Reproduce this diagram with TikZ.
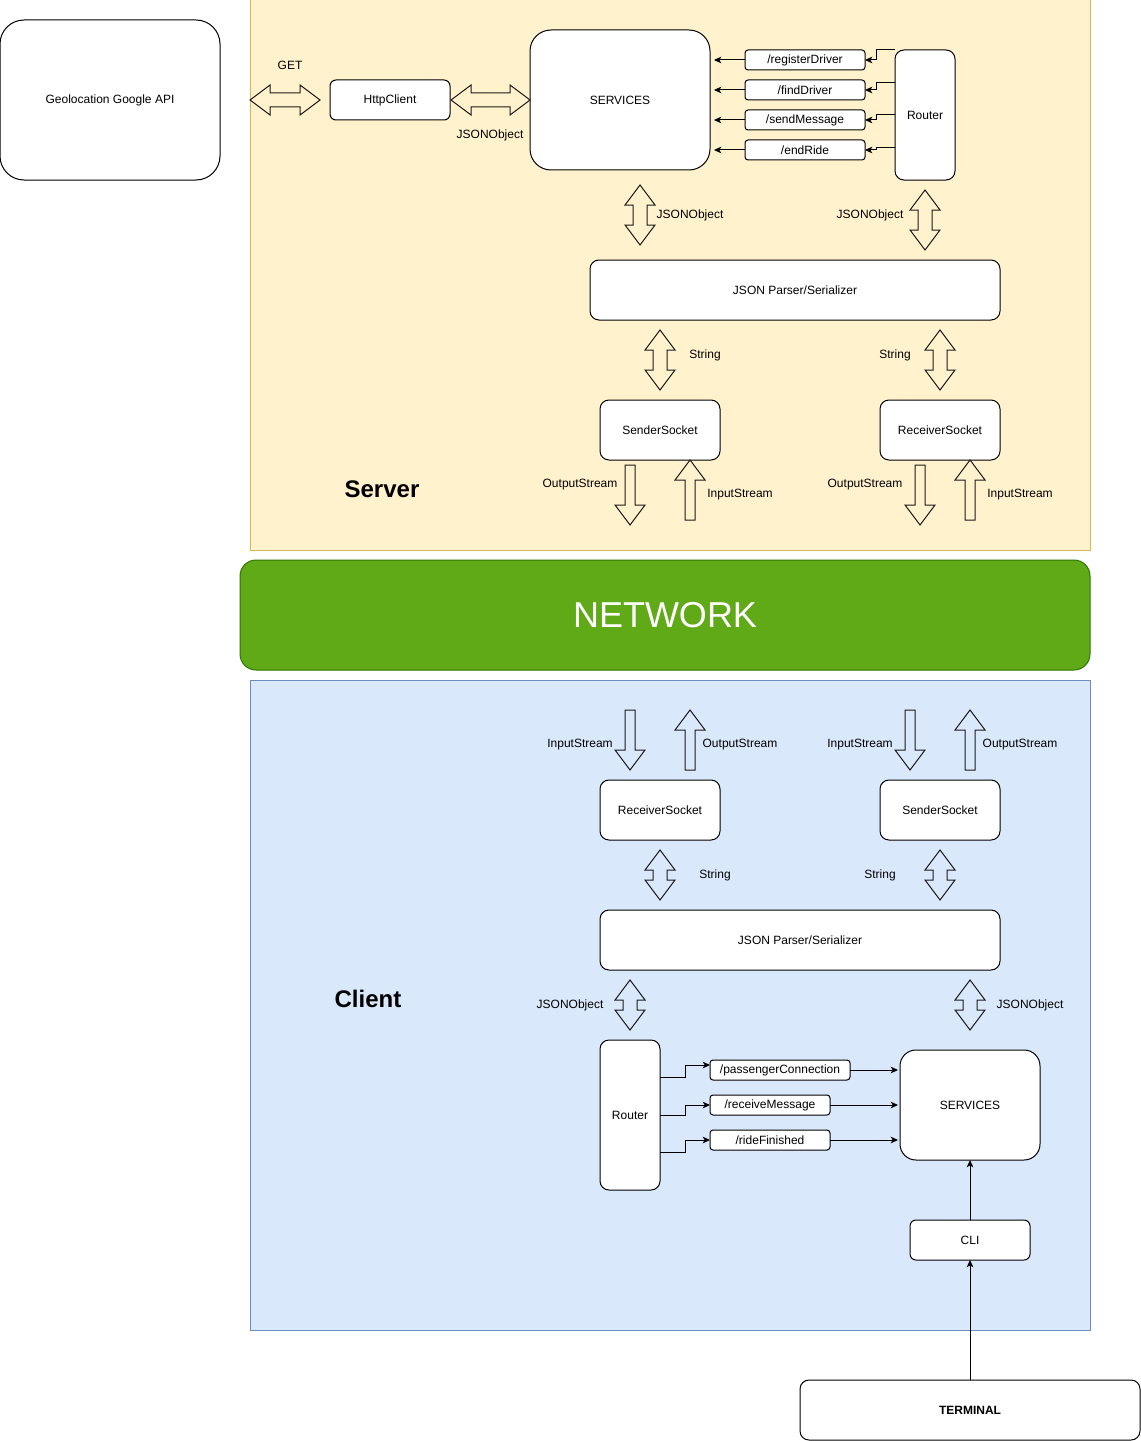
\documentclass[tikz,border=0pt]{standalone}
\usepackage{fontspec}
\setmainfont{Liberation Sans}
\usetikzlibrary{arrows.meta,calc}

\definecolor{serverfill}{HTML}{FFF2CC}
\definecolor{serverline}{HTML}{D6B656}
\definecolor{clientfill}{HTML}{DAE8FC}
\definecolor{clientline}{HTML}{6C8EBF}
\definecolor{netfill}{HTML}{60A917}
\definecolor{netline}{HTML}{2D7600}
\definecolor{inkline}{HTML}{1A1A1A}

\tikzset{
  box/.style n args={3}{draw=black, fill=white, line width=0.75pt,
    rounded corners=#3, minimum width=#1*0.75pt, minimum height=#2*0.75pt,
    inner sep=0pt, outer sep=0pt, font=\fontsize{9pt}{10pt}\selectfont},
  region/.style n args={2}{line width=0.75pt, minimum width=#1*0.75pt,
    minimum height=#2*0.75pt, inner sep=0pt, outer sep=0pt},
  lbl/.style={inner sep=0pt, font=\fontsize{9pt}{10pt}\selectfont},
  title/.style={inner sep=0pt, font=\fontsize{18pt}{20pt}\selectfont\bfseries},
  conn/.style={draw=black, line width=0.75pt,
    -{Stealth[length=5.5pt,width=5pt,inset=1.5pt]}},
  blockarrow/.style={draw=inkline, line width=0.75pt, line join=miter},
}

% vertical double block arrow: x, top tip, bottom tip
\newcommand\vdblarrow[3]{%
  \draw[blockarrow] (#1,#2) -- ++(15,20) -- ++(-8,0) -- ({#1+7},{#3-20})
    -- ++(8,0) -- (#1,#3) -- ++(-15,-20) -- ++(8,0) -- ({#1-7},{#2+20})
    -- ++(-8,0) -- cycle;}
% horizontal double block arrow: y, left tip, right tip
\newcommand\hdblarrow[3]{%
  \draw[blockarrow] (#2,#1) -- ++(20,-15) -- ++(0,8) -- ({#3-20},{#1-7})
    -- ++(0,-8) -- (#3,#1) -- ++(-20,15) -- ++(0,-8) -- ({#2+20},{#1+7})
    -- ++(0,8) -- cycle;}
% single block arrow pointing down: x, tail y, tip y
\newcommand\blockdown[3]{%
  \draw[blockarrow] ({#1-5},#2) -- ({#1+5},#2) -- ({#1+5},{#3-20})
    -- ({#1+15},{#3-20}) -- (#1,#3) -- ({#1-15},{#3-20}) -- ({#1-5},{#3-20}) -- cycle;}
% single block arrow pointing up: x, tip y, tail y
\newcommand\blockup[3]{%
  \draw[blockarrow] (#1,#2) -- ({#1+15},{#2+20}) -- ({#1+5},{#2+20})
    -- ({#1+5},#3) -- ({#1-5},#3) -- ({#1-5},{#2+20}) -- ({#1-15},{#2+20}) -- cycle;}

\begin{document}
\begin{tikzpicture}[x=0.75pt, y=-0.75pt]
\useasboundingbox (0,0) rectangle (1141,1441);

% ---------- regions ----------
\node[region={840}{550}, draw=serverline, fill=serverfill] (server) at (670,275) {};
\node[region={840}{650}, draw=clientline, fill=clientfill] (client) at (670,1005) {};
\node[region={850}{110}, draw=netline, fill=netfill, rounded corners=12pt,
      text=white, font=\fontsize{27pt}{30pt}\selectfont] (network) at (665,615) {NETWORK};

\node[title] (servertitle) at (382,489) {Server};
\node[title] (clienttitle) at (368,999) {Client};

% ---------- external API ----------
\node[box={220}{160}{18pt}] (geo) at (110,100) {Geolocation Google API};

% ---------- server side ----------
\node[box={120}{40}{4.5pt}] (http) at (390,100) {HttpClient};
\node[box={180}{140}{15.75pt}] (srvT) at (620,100) {SERVICES};
\node[box={60}{130}{6.75pt}] (routerT) at (925,115) {Router};
\node[box={120}{20}{2.25pt}] (rRegister) at (805,60) {/registerDriver};
\node[box={120}{20}{2.25pt}] (rFind) at (805,90) {/findDriver};
\node[box={120}{20}{2.25pt}] (rSend) at (805,120) {/sendMessage};
\node[box={120}{20}{2.25pt}] (rEnd) at (805,150) {/endRide};
\node[box={410}{60}{6.75pt}] (jsonT) at (795,290) {JSON Parser/Serializer};
\node[box={120}{60}{6.75pt}] (sendT) at (660,430) {SenderSocket};
\node[box={120}{60}{6.75pt}] (recvT) at (940,430) {ReceiverSocket};

% router outputs to the endpoint boxes
\coordinate (ro0) at (routerT.north west);
\coordinate (ro1) at ($(routerT.north west)!0.25!(routerT.south west)$);
\coordinate (ro2) at ($(routerT.north west)!0.5!(routerT.south west)$);
\coordinate (ro3) at ($(routerT.north west)!0.75!(routerT.south west)$);
\draw[conn] (ro0) -- ++(-19,0) |- (rRegister.east);
\draw[conn] (ro1) -- ++(-19,0) |- (rFind.east);
\draw[conn] (ro2) -- ++(-19,0) |- (rSend.east);
\draw[conn] (ro3) -- ++(-19,0) |- (rEnd.east);

% endpoints into SERVICES
\foreach \r in {rRegister,rFind,rSend,rEnd}
  \draw[conn, shorten >=3pt] (\r.west) -- (\r.west -| srvT.east);

% block arrows, server
\hdblarrow{100}{250}{320}
\hdblarrow{100}{451}{530}
\vdblarrow{640}{185}{245}
\vdblarrow{925}{190}{250}
\vdblarrow{660}{330}{390}
\vdblarrow{940}{330}{390}
\blockdown{630}{465}{525}
\blockup{690}{460}{520}
\blockdown{920}{465}{525}
\blockup{970}{460}{520}

\node[lbl] (lGet) at (290,65) {GET};
\node[lbl] (lJson1) at (490,135) {JSONObject};
\node[lbl] (lJson2) at (690,215) {JSONObject};
\node[lbl] (lJson3) at (870,215) {JSONObject};
\node[lbl] (lStr1) at (705,355) {String};
\node[lbl] (lStr2) at (895,355) {String};
\node[lbl] (lOut1) at (580,485) {OutputStream};
\node[lbl] (lIn1) at (740,495) {InputStream};
\node[lbl] (lOut2) at (865,485) {OutputStream};
\node[lbl] (lIn2) at (1020,495) {InputStream};

% ---------- client side ----------
\node[box={120}{60}{6.75pt}] (recvC) at (660,810) {ReceiverSocket};
\node[box={120}{60}{6.75pt}] (sendC) at (940,810) {SenderSocket};
\node[box={400}{60}{6.75pt}] (jsonC) at (800,940) {JSON Parser/Serializer};
\node[box={60}{150}{6.75pt}] (routerC) at (630,1115) {Router};
\node[box={140}{20}{2.25pt}] (rPass) at (780,1070) {/passengerConnection};
\node[box={120}{20}{2.25pt}] (rRecv) at (770,1105) {/receiveMessage};
\node[box={120}{20}{2.25pt}] (rRide) at (770,1140) {/rideFinished};
\node[box={140}{110}{12pt}] (srvC) at (970,1105) {SERVICES};
\node[box={120}{40}{4.5pt}] (cli) at (970,1240) {CLI};
\node[box={340}{60}{6.75pt}, font=\fontsize{9pt}{10pt}\selectfont\bfseries] (term) at (970,1410) {TERMINAL};

\coordinate (co1) at ($(routerC.north east)!0.25!(routerC.south east)$);
\coordinate (co2) at ($(routerC.north east)!0.5!(routerC.south east)$);
\coordinate (co3) at ($(routerC.north east)!0.75!(routerC.south east)$);
\draw[conn] (co1) -- ++(25,0) |- ([yshift=3.75pt]rPass.west);
\draw[conn] (co2) -- ++(25,0) |- (rRecv.west);
\draw[conn] (co3) -- ++(25,0) |- (rRide.west);

\foreach \r in {rPass,rRecv,rRide}
  \draw[conn, shorten >=1.5pt] (\r.east) -- (\r.east -| srvC.west);

\draw[conn] (cli.north) -- (srvC.south);
\draw[conn] (term.north) -- (cli.south);

% block arrows, client
\blockdown{630}{710}{770}
\blockup{690}{710}{770}
\blockdown{910}{710}{770}
\blockup{970}{710}{770}
\vdblarrow{660}{850}{900}
\vdblarrow{940}{850}{900}
\vdblarrow{630}{980}{1030}
\vdblarrow{970}{980}{1030}

\node[lbl] (cIn1) at (580,745) {InputStream};
\node[lbl] (cOut1) at (740,745) {OutputStream};
\node[lbl] (cIn2) at (860,745) {InputStream};
\node[lbl] (cOut2) at (1020,745) {OutputStream};
\node[lbl] (cStr1) at (715,875) {String};
\node[lbl] (cStr2) at (880,875) {String};
\node[lbl] (cJson1) at (570,1005) {JSONObject};
\node[lbl] (cJson2) at (1030,1005) {JSONObject};

\end{tikzpicture}
\end{document}
